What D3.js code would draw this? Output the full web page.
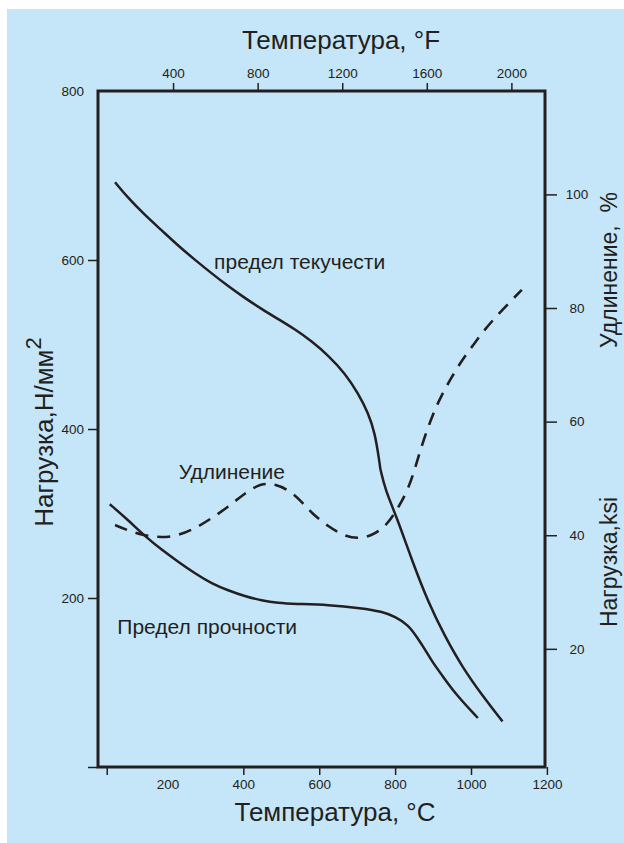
<!DOCTYPE html>
<html>
<head>
<meta charset="utf-8">
<script src="https://cdn.jsdelivr.net/npm/d3@7"></script>
<style>
  body { margin: 0; background: #fff; }
  svg { display: block; font-family: "Liberation Sans", Arial, sans-serif; }
</style>
</head>
<body>
<div id="chart"></div>
<script>
// Data
const yieldTempC = [62, 97, 141, 185, 228, 273, 317, 360, 404, 448, 492, 536, 580, 624, 668, 703, 729, 747, 758, 761, 761, 774, 804, 844, 888, 932, 976, 1029, 1083];
const yieldLoad = [692, 673, 653, 635, 617, 600, 584, 569, 555, 542, 530, 518, 504, 487, 466, 442, 419, 395, 363, 353, 353, 328, 296, 245, 194, 154, 119, 85, 54];

const tensileTempC = [48, 97, 141, 185, 228, 273, 317, 360, 404, 448, 492, 536, 624, 712, 765, 800, 835, 857, 879, 897, 923, 958, 1018];
const tensileLoad = [311, 292, 273, 257, 243, 229, 217, 209, 202, 197, 194, 193, 192, 188, 184, 178, 168, 154, 139, 125, 109, 87, 58];

const elongTempC = [62, 97, 141, 185, 228, 273, 317, 360, 404, 448, 483, 519, 554, 580, 624, 668, 703, 738, 774, 800, 835, 856, 875, 900, 922, 948, 975, 1006, 1037, 1073, 1109, 1134];
const elongPct = [41.8, 40.8, 39.9, 39.6, 39.9, 41.2, 43.0, 45.0, 47.4, 49.2, 49.0, 48.0, 45.9, 43.9, 41.5, 39.8, 39.4, 39.9, 41.5, 43.9, 48.0, 52.6, 56.8, 61.4, 64.6, 67.7, 70.7, 73.5, 76.3, 79.0, 81.5, 83.2];

const celsiusLabels = [200, 400, 600, 800, 1000, 1200];
const celsiusMarks = [40, 400, 600, 800, 1000, 1200];
const fahrenheitTicks = [400, 800, 1200, 1600, 2000];
const loadTicks = [0, 200, 400, 600, 800];
const rightTicks = [20, 40, 60, 80, 100];

const curveLabels = [
  { text: "предел текучести", c: 323, load: 589 },
  { text: "Удлинение", c: 230, load: 341 },
  { text: "Предел прочности", c: 68, load: 157 },
];

// Dimensions
const dimensions = {
  width: 624,
  height: 843,
  margins: { top: 91, right: 79, bottom: 76, left: 98 },
};
dimensions.ctrWidth = dimensions.width - dimensions.margins.left - dimensions.margins.right;
dimensions.ctrHeight = dimensions.height - dimensions.margins.top - dimensions.margins.bottom;

const ink = "#231f20";

const svg = d3
  .select("#chart")
  .append("svg")
  .attr("width", dimensions.width)
  .attr("height", dimensions.height);

// blue panel
svg
  .append("rect")
  .attr("x", 7)
  .attr("y", 9)
  .attr("width", dimensions.width - 7)
  .attr("height", dimensions.height - 9)
  .attr("fill", "#c5e5f8");

const ctr = svg
  .append("g")
  .attr("transform", `translate(${dimensions.margins.left}, ${dimensions.margins.top})`);

// Scales
const xC = d3.scaleLinear().domain([17, 1195]).range([0, dimensions.ctrWidth]);
const xF = d3.scaleLinear().domain([45, 2159]).range([0, dimensions.ctrWidth]);
const yLoad = d3.scaleLinear().domain([0, 800]).range([dimensions.ctrHeight, 0]);
const yRight = d3.scaleLinear().domain([-0.8, 118.2]).range([dimensions.ctrHeight, 0]);

const plain = d3.format("d");

// Axes
function styleAxis(g, size) {
  g.select(".domain").remove();
  g.selectAll("line").attr("stroke", ink).attr("stroke-width", 1.5);
  g.selectAll("text")
    .attr("fill", ink)
    .style("font-size", size + "px")
    .style("font-family", '"Liberation Sans", Arial, sans-serif');
}

// bottom: tick marks and labels do not line up in the original
ctr
  .append("g")
  .attr("transform", `translate(0, ${dimensions.ctrHeight})`)
  .call(d3.axisBottom(xC).tickValues(celsiusMarks).tickSize(8).tickFormat(""))
  .call((g) => styleAxis(g, 13.5));

ctr
  .append("g")
  .attr("transform", `translate(0, ${dimensions.ctrHeight})`)
  .call(d3.axisBottom(xC).tickValues(celsiusLabels).tickSize(0).tickPadding(12.4).tickFormat(plain))
  .call((g) => {
    styleAxis(g, 13.5);
    g.selectAll("line").remove();
  });

ctr
  .append("g")
  .call(d3.axisTop(xF).tickValues(fahrenheitTicks).tickSize(8).tickPadding(5).tickFormat(plain))
  .call((g) => styleAxis(g, 13.5));

ctr
  .append("g")
  .call(d3.axisLeft(yLoad).tickValues(loadTicks).tickSize(10).tickPadding(4).tickFormat(plain))
  .call((g) => {
    styleAxis(g, 13.5);
    g.selectAll(".tick").filter((d) => d === 0).select("text").remove();
    g.selectAll(".tick").filter((d) => d === 800).select("line").remove();
  });

ctr
  .append("g")
  .attr("transform", `translate(${dimensions.ctrWidth}, 0)`)
  .call(d3.axisRight(yRight).tickValues(rightTicks).tickSize(12).tickPadding(20).tickFormat(plain))
  .call((g) => {
    styleAxis(g, 13.5);
    g.selectAll("text").attr("text-anchor", "middle");
  });

// Frame
ctr
  .append("rect")
  .attr("width", dimensions.ctrWidth)
  .attr("height", dimensions.ctrHeight)
  .attr("fill", "none")
  .attr("stroke", ink)
  .attr("stroke-width", 3);

// Curves
const line = (xs, ys, yScale) =>
  d3
    .line()
    .x((d, i) => xC(xs[i]))
    .y((d) => yScale(d))
    .curve(d3.curveBasis)(ys);

ctr
  .append("path")
  .attr("d", line(yieldTempC, yieldLoad, yLoad))
  .attr("fill", "none")
  .attr("stroke", ink)
  .attr("stroke-width", 2.5);

ctr
  .append("path")
  .attr("d", line(tensileTempC, tensileLoad, yLoad))
  .attr("fill", "none")
  .attr("stroke", ink)
  .attr("stroke-width", 2.5);

ctr
  .append("path")
  .attr("d", line(elongTempC, elongPct, yRight))
  .attr("fill", "none")
  .attr("stroke", ink)
  .attr("stroke-width", 2.6)
  .attr("stroke-dasharray", "13,9");

// Curve labels
ctr
  .selectAll("text.curve-label")
  .data(curveLabels)
  .join("text")
  .classed("curve-label", true)
  .attr("x", (d) => xC(d.c))
  .attr("y", (d) => yLoad(d.load))
  .attr("fill", ink)
  .style("font-size", "21px")
  .text((d) => d.text);

// Axis titles
svg
  .append("text")
  .attr("x", 341)
  .attr("y", 49)
  .attr("text-anchor", "middle")
  .attr("fill", ink)
  .style("font-size", "26px")
  .text("Температура, °F");

svg
  .append("text")
  .attr("x", 335)
  .attr("y", 821)
  .attr("text-anchor", "middle")
  .attr("fill", ink)
  .style("font-size", "26px")
  .text("Температура, °C");

const leftTitle = svg
  .append("text")
  .attr("transform", "translate(53, 432) rotate(-90)")
  .attr("text-anchor", "middle")
  .attr("fill", ink)
  .style("font-size", "26px");
leftTitle.append("tspan").text("Нагрузка,Н/мм");
leftTitle.append("tspan").attr("dy", "-0.55em").style("font-size", "22px").text("2");

svg
  .append("text")
  .attr("transform", "translate(617, 270) rotate(-90)")
  .attr("text-anchor", "middle")
  .attr("fill", ink)
  .style("font-size", "23px")
  .style("white-space", "pre")
  .text("Удлинение,  %");

svg
  .append("text")
  .attr("transform", "translate(617, 562) rotate(-90)")
  .attr("text-anchor", "middle")
  .attr("fill", ink)
  .style("font-size", "23px")
  .text("Нагрузка,ksi");
</script>
</body>
</html>
